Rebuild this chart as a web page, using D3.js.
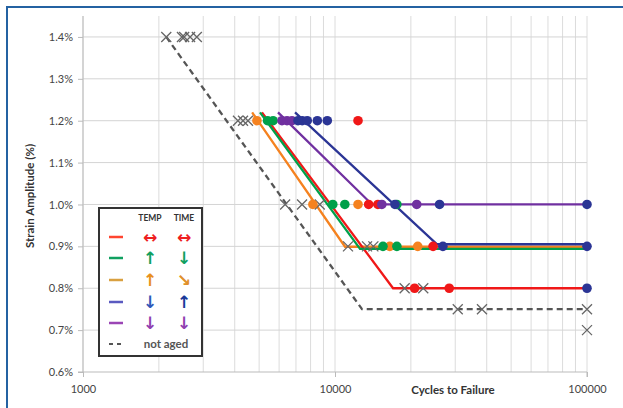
<!DOCTYPE html>
<html lang="en">
<head>
<meta charset="utf-8">
<title>Strain amplitude vs cycles to failure</title>
<script src="https://cdn.jsdelivr.net/npm/d3@7"></script>
<style>
  body { margin: 0; background: #fff; }
  svg text { font-family: Lato, "Open Sans", sans-serif; }
  .tick text { font-size: 11px; fill: #444; }
  .axisTitle { font-size: 11.5px; font-weight: bold; fill: #333; }
  .legHead { font-size: 8.5px; font-weight: bold; fill: #333; }
  .arrow { font-family: "DejaVu Sans", sans-serif !important; font-size: 17px; font-weight: bold; }
</style>
</head>
<body>
<div class="chart"></div>
<script>
// axis ticks
var strainTicks = [0.6, 0.7, 0.8, 0.9, 1.0, 1.1, 1.2, 1.3, 1.4];
var cycleTicks = [1000, 10000, 100000];

// fitted bilinear curves [cycles, strain %]
var fitNotAged = [[2140, 1.4], [12800, 0.75], [100000, 0.75]];
var fitRed = [[5130, 1.22], [17000, 0.8], [100000, 0.8]];
var fitGreen = [[5040, 1.22], [12570, 0.894], [100000, 0.894]];
var fitOrange = [[4690, 1.22], [10960, 0.899], [100000, 0.899]];
var fitPurple = [[5940, 1.22], [14030, 1.0], [100000, 1.0]];
var fitBlue = [[6940, 1.22], [25400, 0.905], [100000, 0.905]];

// test points [cycles, strain %]
var ptsNotAged = [[2140, 1.4], [2470, 1.4], [2520, 1.4], [2660, 1.4], [2830, 1.4],
                  [4120, 1.2], [4315, 1.2], [4515, 1.2],
                  [6340, 1.0], [7400, 1.0], [8700, 1.0],
                  [11260, 0.9], [13400, 0.9], [14200, 0.9],
                  [18900, 0.8], [22400, 0.8],
                  [30700, 0.75], [38300, 0.75], [100000, 0.75], [100000, 0.7]];
var ptsOrange = [[4900, 1.2], [8170, 1.0], [12340, 1.0], [16500, 0.9], [21300, 0.9]];
var ptsGreen = [[5400, 1.2], [5680, 1.2], [9800, 1.0], [10940, 1.0], [17600, 1.0], [15500, 0.9], [17600, 0.9]];
var ptsRed = [[12340, 1.2], [13600, 1.0], [14800, 1.0], [24500, 0.9], [20700, 0.8], [28400, 0.8]];
var ptsPurple = [[6160, 1.2], [6450, 1.2], [6750, 1.2], [15340, 1.0], [21100, 1.0]];
var ptsBlue = [[7130, 1.2], [7410, 1.2], [7760, 1.2], [8510, 1.2], [9320, 1.2],
               [17300, 1.0], [26000, 1.0], [100000, 1.0], [26800, 0.9], [100000, 0.9], [100000, 0.8]];

// legend rows
var legendLabels = ["TEMP", "TIME"];
var legendTemp = ["\u2194", "\u2191", "\u2191", "\u2193", "\u2193"];
var legendTime = ["\u2194", "\u2193", "\u2198", "\u2191", "\u2193"];

var w = 623, h = 408;
var colors = { red: "#f01818", green: "#00a04a", orange: "#f5821f", purple: "#7030a0", blue: "#2b3595", gray: "#555" };

var svg = d3.select("div.chart").append("svg")
  .attr("width", w).attr("height", h);

// outer frame
svg.append("rect")
  .attr("x", 7).attr("y", 7).attr("width", 700).attr("height", 500)
  .attr("fill", "none").attr("stroke", "#2462a2").attr("stroke-width", 2);

var x = d3.scaleLog().domain([1000, 100000]).range([83, 587]);
var y = d3.scaleLinear().domain([0.6, 1.45]).range([372, 16]);

// gridlines
svg.append("g").selectAll("line")
  .data(x.ticks())
  .enter().append("line")
  .attr("x1", function(d) { return x(d); }).attr("x2", function(d) { return x(d); })
  .attr("y1", y(1.45)).attr("y2", y(0.6))
  .attr("stroke", "#dcdcdc").attr("stroke-width", 1);

svg.append("g").selectAll("line")
  .data(strainTicks.slice(1))
  .enter().append("line")
  .attr("x1", x(1000)).attr("x2", x(100000))
  .attr("y1", function(d) { return y(d); }).attr("y2", function(d) { return y(d); })
  .attr("stroke", "#d4d4d4").attr("stroke-width", 1);

// axes
var yAxis = d3.axisLeft(y).tickValues(strainTicks)
  .tickFormat(function(d) { return d.toFixed(1) + "%"; })
  .tickSize(5).tickPadding(5);
var xAxis = d3.axisBottom(x).tickValues(cycleTicks)
  .tickFormat(d3.format("d")).tickSize(5).tickPadding(8);

var gy = svg.append("g").attr("transform", "translate(" + x(1000) + ",0)").call(yAxis);
var gx = svg.append("g").attr("transform", "translate(0," + y(0.6) + ")").call(xAxis);
[gy, gx].forEach(function(g) {
  g.select(".domain").attr("stroke", "#bbb");
  g.selectAll(".tick line").attr("stroke", "#bbb");
});
gy.select(".domain").attr("d", "M-5," + y(0.6) + "H0V" + y(1.45));
gx.select(".domain").attr("d", "M" + x(1000) + ",0H" + x(100000) + "V5");

svg.append("text").attr("class", "axisTitle")
  .attr("transform", "translate(34,196) rotate(-90)")
  .attr("text-anchor", "middle")
  .text("Strain Amplitude (%)");
svg.append("text").attr("class", "axisTitle")
  .attr("x", 453).attr("y", 394)
  .attr("text-anchor", "middle")
  .text("Cycles to Failure");

// fit lines
var line = d3.line().x(function(d) { return x(d[0]); }).y(function(d) { return y(d[1]); });
var fits = [
  { data: fitNotAged, c: colors.gray, dash: "6,4" },
  { data: fitOrange, c: colors.orange },
  { data: fitRed, c: colors.red },
  { data: fitPurple, c: colors.purple },
  { data: fitBlue, c: colors.blue },
  { data: fitGreen, c: colors.green }
];
svg.append("g").selectAll("path")
  .data(fits)
  .enter().append("path")
  .attr("d", function(d) { return line(d.data); })
  .attr("fill", "none")
  .attr("stroke", function(d) { return d.c; })
  .attr("stroke-width", 2.3)
  .attr("stroke-dasharray", function(d) { return d.dash || null; });

// crosses for not aged
svg.append("g").selectAll("path")
  .data(ptsNotAged)
  .enter().append("path")
  .attr("d", function(d) {
    var cx = x(d[0]), cy = y(d[1]), s = 5;
    return "M" + (cx - s) + "," + (cy - s) + "L" + (cx + s) + "," + (cy + s) +
           "M" + (cx - s) + "," + (cy + s) + "L" + (cx + s) + "," + (cy - s);
  })
  .attr("stroke", "#666").attr("stroke-width", 1.3).attr("fill", "none");

// dot markers
var dots = [
  { data: ptsOrange, c: colors.orange },
  { data: ptsGreen, c: colors.green },
  { data: ptsRed, c: colors.red },
  { data: ptsPurple, c: colors.purple },
  { data: ptsBlue, c: colors.blue }
];
dots.forEach(function(s) {
  svg.append("g").selectAll("circle")
    .data(s.data)
    .enter().append("circle")
    .attr("cx", function(d) { return x(d[0]); })
    .attr("cy", function(d) { return y(d[1]); })
    .attr("r", 4.8)
    .attr("fill", s.c);
});

// legend
var legend = svg.append("g").attr("transform", "translate(99,208)");
legend.append("rect")
  .attr("width", 103).attr("height", 148)
  .attr("fill", "#fff").attr("stroke", "#333").attr("stroke-width", 2);

legend.selectAll("text.legHead")
  .data(legendLabels)
  .enter().append("text")
  .attr("class", "legHead")
  .attr("x", function(d, i) { return i === 0 ? 51 : 85; })
  .attr("y", 13)
  .attr("text-anchor", "middle")
  .text(function(d) { return d; });

var legColors = ["#ff4530", "#10a060", "#d9a040", "#5a5ac0", "#9b45b5"];
var tempColors = ["#ee2020", "#10a060", "#e8901e", "#2f58b8", "#9040b0"];
var timeColors = ["#ee2020", "#10a060", "#e0902a", "#1a3a9a", "#9040b0"];
var rowY = [29, 50, 72, 94, 115];

legColors.forEach(function(c, i) {
  legend.append("line")
    .attr("x1", 10).attr("x2", 24)
    .attr("y1", rowY[i]).attr("y2", rowY[i])
    .attr("stroke", c).attr("stroke-width", 2.5);
  legend.append("text").attr("class", "arrow")
    .attr("x", 51).attr("y", rowY[i] + 6)
    .attr("text-anchor", "middle")
    .attr("fill", tempColors[i])
    .text(legendTemp[i]);
  legend.append("text").attr("class", "arrow")
    .attr("x", 85).attr("y", rowY[i] + 6)
    .attr("text-anchor", "middle")
    .attr("fill", timeColors[i])
    .text(legendTime[i]);
});

legend.append("line")
  .attr("x1", 10).attr("x2", 25)
  .attr("y1", 136).attr("y2", 136)
  .attr("stroke", "#555").attr("stroke-width", 2).attr("stroke-dasharray", "4,4");
legend.append("text")
  .attr("x", 67).attr("y", 140)
  .attr("text-anchor", "middle")
  .attr("font-size", "11.5px").attr("font-weight", "bold")
  .attr("fill", "#555")
  .text("not aged");
</script>
</body>
</html>
